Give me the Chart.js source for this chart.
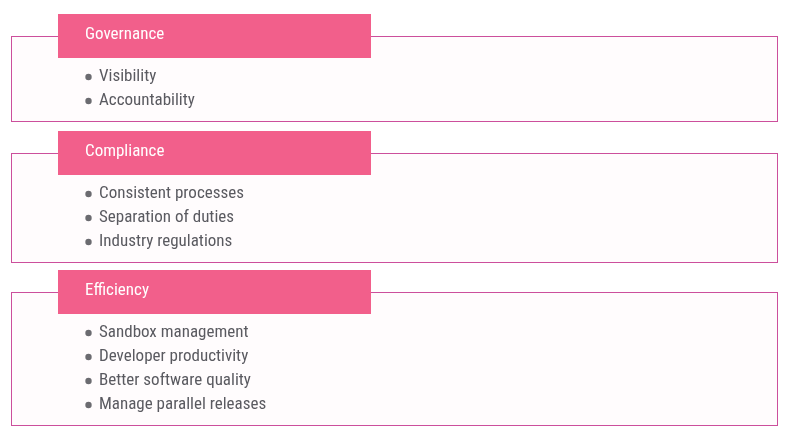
<!DOCTYPE html>
<html><head><meta charset="utf-8">
<script src="https://cdn.jsdelivr.net/npm/chart.js@4/dist/chart.umd.min.js"></script>
<style>html,body{margin:0;padding:0;background:#fff}#wrap{width:800px;height:442px}</style>
</head><body><div id="wrap"><canvas id="c"></canvas></div>
<script>
const sections = ['Governance', 'Compliance', 'Efficiency'];
const sectionItems = [
  ['Visibility', 'Accountability'],
  ['Consistent processes', 'Separation of duties', 'Industry regulations'],
  ['Sandbox management', 'Developer productivity', 'Better software quality', 'Manage parallel releases']
];

// layout (pixel-space units on the chart's linear scales)
const L = { boxLeft: 11, boxRight: 777, headLeft: 58, headRight: 371, headH: 44, headOverlap: 22,
  starts: [14, 131, 270], itemStart: 41, itemStep: 24, bottomPad: 20 };

const font = '"Liberation Sans Narrow","Roboto Condensed",Roboto,sans-serif';
const diagram = {
  id: 'diagram',
  afterDraw(chart) {
    const {ctx, scales: {x, y}} = chart;
    const X = v => x.getPixelForValue(v), Y = v => y.getPixelForValue(v);
    ctx.save();
    sections.forEach((name, i) => {
      const top = L.starts[i];
      const items = sectionItems[i];
      const boxTop = top + L.headOverlap;
      const lastItem = top + L.itemStart + L.itemStep * (items.length - 1) + 22;
      const boxBottom = lastItem + L.bottomPad;
      ctx.fillStyle = '#fffcfd';
      ctx.strokeStyle = '#cc4f9c';
      ctx.lineWidth = 1;
      ctx.fillRect(X(L.boxLeft), Y(boxTop), X(L.boxRight) - X(L.boxLeft), Y(boxBottom) - Y(boxTop));
      ctx.strokeRect(X(L.boxLeft) + .5, Y(boxTop) + .5, X(L.boxRight) - X(L.boxLeft), Y(boxBottom) - Y(boxTop));
      ctx.fillStyle = '#f25f8b';
      ctx.fillRect(X(L.headLeft), Y(top), X(L.headRight) - X(L.headLeft), Y(top + L.headH) - Y(top));
      ctx.fillStyle = '#ffffff';
      ctx.font = '17px ' + font;
      ctx.textBaseline = 'middle';
      ctx.fillText(name, X(85), Y(top + 21));
      items.forEach((it, j) => {
        const cy = Y(top + L.itemStart + 22 + L.itemStep * j);
        ctx.fillStyle = '#6b6b70';
        ctx.beginPath(); ctx.arc(X(88.5), cy, 3.2, 0, Math.PI * 2); ctx.fill();
        ctx.fillStyle = '#5a5a60';
        ctx.font = '17px ' + font;
        ctx.fillText(it, X(99), cy);
      });
    });
    ctx.restore();
  }
};

new Chart(document.getElementById('c'), {
  type: 'scatter',
  data: { datasets: [{ data: [] }] },
  options: {
    responsive: true, maintainAspectRatio: false, animation: false,
    layout: { padding: 0 },
    plugins: { legend: { display: false }, tooltip: { enabled: false } },
    scales: {
      x: { type: 'linear', min: 0, max: 800, display: false },
      y: { type: 'linear', min: 0, max: 442, reverse: true, display: false }
    }
  },
  plugins: [diagram]
});
</script></body></html>
